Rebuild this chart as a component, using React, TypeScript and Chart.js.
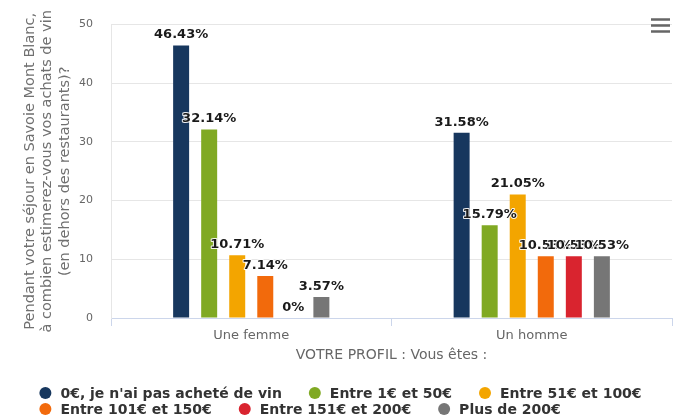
import { useEffect, useRef } from 'react';
import { Chart, registerables } from 'chart.js';

Chart.register(...registerables);

const categories = ['Une femme', 'Un homme'];
const seriesNames = [
  "0€, je n'ai pas acheté de vin",
  'Entre 1€ et 50€',
  'Entre 51€ et 100€',
  'Entre 101€ et 150€',
  'Entre 151€ et 200€',
  'Plus de 200€',
];
const series0 = [46.43, 31.58];
const series1 = [32.14, 15.79];
const series2 = [10.71, 21.05];
const series3 = [7.14, 10.53];
const series4 = [0, 10.53];
const series5 = [3.57, 10.53];
const seriesValues = [series0, series1, series2, series3, series4, series5];
const seriesColors = ['#17375e', '#80a923', '#f3a500', '#f26a0c', '#d9242f', '#767676'];
const yMin = 0;
const yMax = 50;
const yStep = 10;
const yTitle = [
  'Pendant votre séjour en Savoie Mont Blanc,',
  'à combien estimerez-vous vos achats de vin',
  '(en dehors des restaurants)?',
];
const xTitle = 'VOTRE PROFIL : Vous êtes :';

const FONT = '"DejaVu Sans", sans-serif';

const dataLabelPlugin = {
  id: 'dataLabels',
  afterDatasetsDraw(chart: any) {
    const ctx = chart.ctx;
    ctx.save();
    ctx.font = `bold 13px ${FONT}`;
    ctx.textAlign = 'center';
    ctx.textBaseline = 'bottom';
    ctx.lineJoin = 'round';
    chart.data.datasets.forEach((ds: any, i: number) => {
      const meta = chart.getDatasetMeta(i);
      meta.data.forEach((el: any, j: number) => {
        const v = ds.data[j];
        const txt = `${v}%`;
        const y = el.y - 4;
        ctx.strokeStyle = 'rgba(255,255,255,0.9)';
        ctx.lineWidth = 2;
        ctx.strokeText(txt, el.x, y);
        ctx.fillStyle = '#1a1a1a';
        ctx.fillText(txt, el.x, y);
      });
    });
    ctx.restore();
  },
};

const legendPlugin = {
  id: 'hcLegend',
  afterDraw(chart: any) {
    const ctx = chart.ctx;
    ctx.save();
    ctx.font = `bold 14px ${FONT}`;
    const radius = 6;
    const textOff = 21;
    const gap = 27;
    const maxW = chart.width - 40;
    const items = chart.data.datasets.map((d: any) => ({
      label: d.label,
      color: d.backgroundColor,
      w: textOff + ctx.measureText(d.label).width,
    }));
    const rows: any[] = [];
    let cur: any[] = [];
    let curW = 0;
    items.forEach((it: any) => {
      const add = (cur.length ? gap : 0) + it.w;
      if (cur.length && curW + add > maxW) {
        rows.push({ items: cur, w: curW });
        cur = [it];
        curW = it.w;
      } else {
        cur.push(it);
        curW += add;
      }
    });
    if (cur.length) rows.push({ items: cur, w: curW });
    const boxW = Math.max(...rows.map((r) => r.w));
    const left = (chart.width - boxW) / 2 + 4;
    rows.forEach((r, ri) => {
      const y = chart.height - 27 + ri * 16;
      let x = left;
      r.items.forEach((it: any) => {
        ctx.fillStyle = it.color;
        ctx.beginPath();
        ctx.arc(x + radius, y, radius, 0, Math.PI * 2);
        ctx.fill();
        ctx.fillStyle = '#333333';
        ctx.textAlign = 'left';
        ctx.textBaseline = 'middle';
        ctx.fillText(it.label, x + textOff, y + 1);
        x += it.w + gap;
      });
    });
    // menu icon
    ctx.strokeStyle = '#666666';
    ctx.lineWidth = 2.5;
    [19.5, 25.5, 31.5].forEach((yy) => {
      ctx.beginPath();
      ctx.moveTo(651, yy);
      ctx.lineTo(670, yy);
      ctx.stroke();
    });
    ctx.restore();
  },
};

export default function App() {
  const ref = useRef<HTMLCanvasElement>(null);
  useEffect(() => {
    document.body.style.margin = '0';
    const canvas = ref.current;
    if (!canvas) return;
    const chart = new Chart(canvas, {
      type: 'bar',
      data: {
        labels: categories,
        datasets: seriesValues.map((vals, i) => ({
          label: seriesNames[i],
          data: vals,
          backgroundColor: seriesColors[i],
          borderWidth: 0,
          categoryPercentage: 0.6,
          barPercentage: 0.57,
        })),
      },
      options: {
        animation: false,
        responsive: false,
        devicePixelRatio: 1,
        layout: { padding: { top: 13, right: 1, left: 0, bottom: 0 } },
        plugins: {
          legend: { display: false },
          tooltip: { enabled: false },
        },
        scales: {
          x: {
            grid: {
              display: true,
              drawOnChartArea: false,
              drawTicks: true,
              tickLength: 8,
              color: '#ccd6eb',
              offset: true,
            },
            border: { display: true, color: '#ccd6eb' },
            ticks: {
              color: '#666666',
              font: { family: FONT, size: 13 },
              padding: 2,
            },
            title: {
              display: true,
              text: xTitle,
              color: '#666666',
              font: { family: FONT, size: 14, lineHeight: '17px' },
              padding: { top: 0, bottom: 56.5 },
            },
            afterFit(scale: any) {
              scale.height = 102;
            },
          },
          y: {
            min: yMin,
            max: yMax,
            grid: { color: '#e6e6e6', drawTicks: false },
            border: { display: true, color: '#e6e6e6' },
            ticks: {
              stepSize: yStep,
              color: '#666666',
              font: { family: FONT, size: 11 },
              padding: 18,
            },
            title: {
              display: true,
              text: yTitle,
              color: '#707070',
              font: { family: FONT, size: 14.5, lineHeight: '17.5px' },
              padding: { top: 21, bottom: 0 },
            },
            afterFit(scale: any) {
              scale.width = 111;
            },
          },
        },
      },
      plugins: [dataLabelPlugin, legendPlugin],
    });
    return () => chart.destroy();
  }, []);
  return <canvas ref={ref} width={673} height={420} style={{ display: 'block' }} />;
}
